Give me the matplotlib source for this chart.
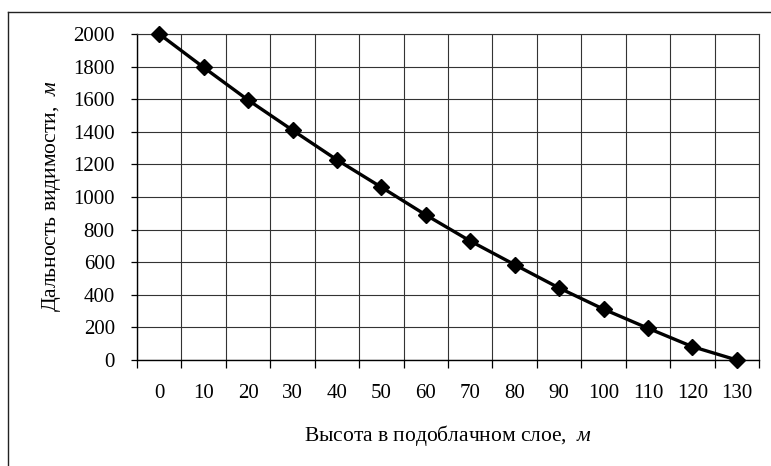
import matplotlib
matplotlib.use("Agg")
import matplotlib.pyplot as plt
from matplotlib.lines import Line2D

heights = [0, 10, 20, 30, 40, 50, 60, 70, 80, 90, 100, 110, 120, 130]
visibility = [2000, 1795, 1595, 1410, 1228, 1060, 890, 730, 585, 442, 312, 195, 82, 0]
y_ticks = [0, 200, 400, 600, 800, 1000, 1200, 1400, 1600, 1800, 2000]
x_label = "Высота в подоблачном слое,  "
y_label = "Дальность видимости,  "
unit = "м"

plt.rcParams['font.family'] = ['Liberation Serif', 'DejaVu Serif']
plt.rcParams['mathtext.fontset'] = 'custom'
plt.rcParams['mathtext.it'] = 'Liberation Serif:italic'
plt.rcParams['mathtext.rm'] = 'Liberation Serif'

W, H = 771, 466
fig = plt.figure(figsize=(W / 100, H / 100), dpi=100)
ax = fig.add_axes([137 / W, 1 - 360 / H, (759 - 137) / W, (360 - 34) / H])

idx = list(range(len(heights)))
ax.plot(idx, visibility, color='black', lw=2.4, marker='D', markersize=8.5,
        markerfacecolor='black', markeredgecolor='black', zorder=5, clip_on=False)

ax.set_xlim(-0.5, len(heights) - 0.5)
ax.set_ylim(0, 2000)
ax.set_xticks(idx)
ax.set_xticklabels([str(h) for h in heights], fontsize=15)
ax.set_xticks([i - 0.5 for i in range(len(heights) + 1)], minor=True)
ax.tick_params(axis='x', which='major', length=0, pad=17)
ax.tick_params(axis='x', which='minor', length=6, width=0.9, direction='out', color='black')
ax.set_yticks(y_ticks)
ax.set_yticklabels([str(v) for v in y_ticks], fontsize=15)
ax.tick_params(axis='y', which='major', length=4, width=0.9, direction='out', pad=12)

ax.grid(True, which='minor', axis='x', color='#333333', lw=0.8)
ax.grid(True, which='major', axis='y', color='#333333', lw=0.8)
for s in ['top', 'right']:
    ax.spines[s].set_color('#333333')
    ax.spines[s].set_linewidth(0.8)
for s in ['left', 'bottom']:
    ax.spines[s].set_color('black')
    ax.spines[s].set_linewidth(1.0)

fig.text(448 / W, 1 - 436 / H, x_label + r"$\mathit{" + unit + "}$", ha='center', va='center', fontsize=15.5)
fig.text(52 / W, 1 - 196 / H, y_label + r"$\mathit{" + unit + "}$", ha='center', va='center',
         rotation=90, fontsize=15.5)

# outer chart frame
fig.add_artist(Line2D([8 / W, 8 / W], [1 - 12 / H, 0], transform=fig.transFigure, color='#222222', lw=1.0))
fig.add_artist(Line2D([8 / W, 1], [1 - 12 / H, 1 - 12 / H], transform=fig.transFigure, color='#222222', lw=1.0))

fig.savefig("out.png", dpi=100)
